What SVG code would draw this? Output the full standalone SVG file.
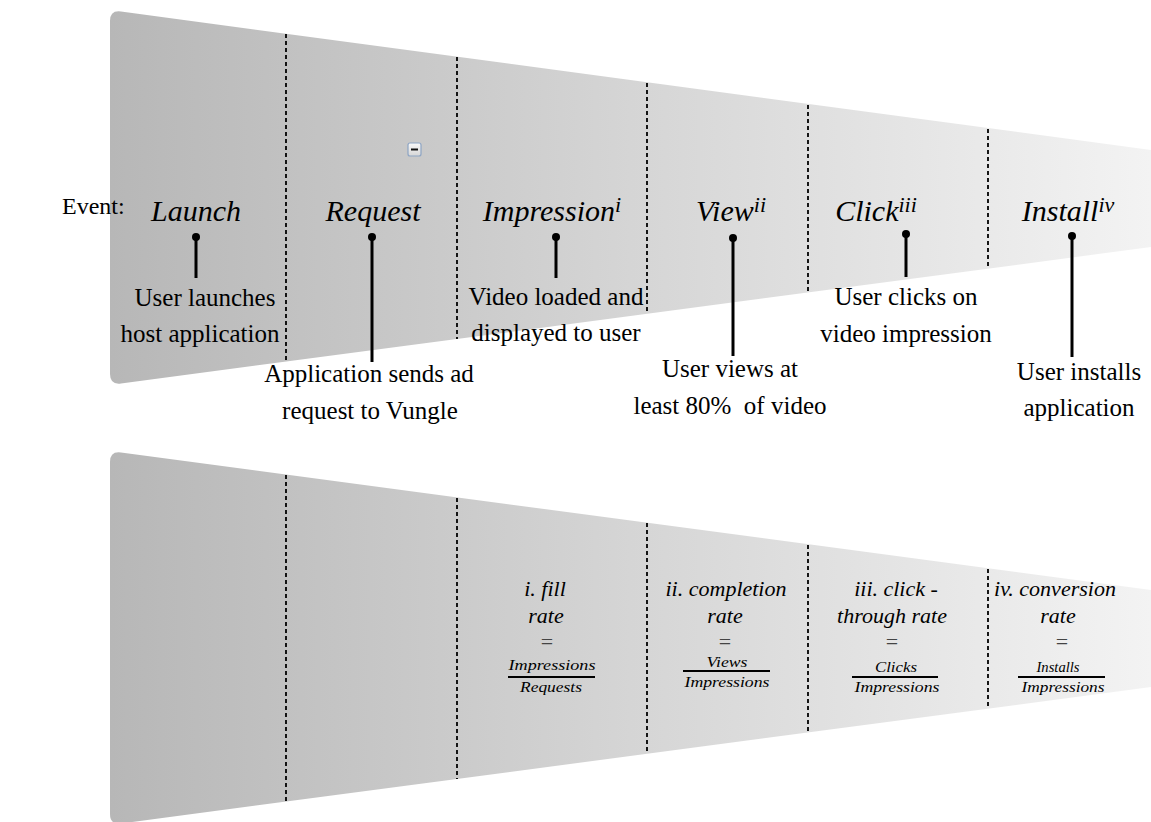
<svg xmlns="http://www.w3.org/2000/svg" width="1151" height="822" viewBox="0 0 1151 822">
<defs>
<linearGradient id="fun" x1="110" y1="0" x2="1151" y2="0" gradientUnits="userSpaceOnUse">
<stop offset="0" stop-color="#b7b7b7"/>
<stop offset="1" stop-color="#f3f3f3"/>
</linearGradient>
<linearGradient id="btn" x1="0" y1="0" x2="0" y2="1">
<stop offset="0" stop-color="#f8f8f8"/>
<stop offset="1" stop-color="#d6d6d6"/>
</linearGradient>
<style>
.t{font-family:"Liberation Serif","Times New Roman",serif;fill:#000}
.lab{font-size:25px;text-anchor:middle}
.ttl{font-size:30px;font-style:italic;text-anchor:middle}
.sup{font-size:22px}
.fm{font-size:22px;font-style:italic;text-anchor:middle}
.eq{font-size:22px;text-anchor:middle;fill:#444}
.fr{font-size:15.5px;font-style:italic;text-anchor:middle}
.dash{stroke:#000;stroke-width:1.8;stroke-dasharray:4 3;fill:none}
.stem{stroke:#000;stroke-width:3;fill:none}
.bar{stroke:#000;stroke-width:2;fill:none}
</style>
</defs>
<rect width="1151" height="822" fill="#fff"/>

<g id="funnel-top">
<path d="M110,21 Q110,10 121,11.5 L1151,150 L1151,247 L121,383.5 Q110,385 110,374 Z" fill="url(#fun)"/>
<line class="dash" x1="286" y1="34" x2="286" y2="361"/>
<line class="dash" x1="457" y1="57" x2="457" y2="339"/>
<line class="dash" x1="647" y1="83" x2="647" y2="314"/>
<line class="dash" x1="808" y1="105" x2="808" y2="292"/>
<line class="dash" x1="988" y1="129" x2="988" y2="268"/>
<g id="collapse-icon">
<rect x="408" y="143" width="13" height="13" rx="2" fill="url(#btn)" stroke="#8ea5c4" stroke-width="1.2"/>
<line x1="411" y1="149.5" x2="418" y2="149.5" stroke="#111" stroke-width="2"/>
</g>
</g>

<g id="funnel-bottom">
<path d="M110,462 Q110,451 121,452.5 L1151,590 L1151,687 L121,823.5 Q110,825 110,814 Z" fill="url(#fun)"/>
<line class="dash" x1="286" y1="475" x2="286" y2="802"/>
<line class="dash" x1="457" y1="498" x2="457" y2="779"/>
<line class="dash" x1="647" y1="523" x2="647" y2="754"/>
<line class="dash" x1="808" y1="545" x2="808" y2="732"/>
<line class="dash" x1="988" y1="569" x2="988" y2="708"/>
</g>

<text class="t" x="62" y="214" font-size="24">Event:</text>

<g id="connectors">
<line class="stem" x1="196" y1="237" x2="196" y2="278"/>
<line class="stem" x1="372" y1="237" x2="372" y2="362"/>
<line class="stem" x1="556" y1="237" x2="556" y2="278"/>
<line class="stem" x1="733" y1="238" x2="733" y2="356"/>
<line class="stem" x1="906" y1="234" x2="906" y2="277"/>
<line class="stem" x1="1072" y1="236" x2="1072" y2="357"/>
<circle cx="196" cy="237" r="4"/>
<circle cx="372" cy="237" r="4"/>
<circle cx="556" cy="237" r="4"/>
<circle cx="733" cy="238" r="4"/>
<circle cx="906" cy="234" r="4"/>
<circle cx="1072" cy="236" r="4"/>
</g>

<g id="launch">
<text class="t ttl" x="196" y="221">Launch</text>
<text class="t lab" x="205" y="306">User launches</text>
<text class="t lab" x="200" y="342">host application</text>
</g>
<g id="request">
<text class="t ttl" x="373" y="221">Request</text>
<text class="t lab" x="369" y="382">Application sends ad</text>
<text class="t lab" x="370" y="419">request to Vungle</text>
</g>
<g id="impression">
<text class="t ttl" x="552" y="221">Impression<tspan class="sup" dy="-9">i</tspan></text>
<text class="t lab" x="556" y="305">Video loaded and</text>
<text class="t lab" x="556" y="341">displayed to user</text>
</g>
<g id="view">
<text class="t ttl" x="731" y="221">View<tspan class="sup" dy="-9">ii</tspan></text>
<text class="t lab" x="730" y="377">User views at</text>
<text class="t lab" x="730" y="414" xml:space="preserve">least 80%  of video</text>
</g>
<g id="click">
<text class="t ttl" x="876" y="221">Click<tspan class="sup" dy="-9">iii</tspan></text>
<text class="t lab" x="906" y="305">User clicks on</text>
<text class="t lab" x="906" y="342">video impression</text>
</g>
<g id="install">
<text class="t ttl" x="1068" y="221">Install<tspan class="sup" dy="-9">iv</tspan></text>
<text class="t lab" x="1079" y="380">User installs</text>
<text class="t lab" x="1079" y="416">application</text>
</g>

<g id="fill-rate">
<text class="t fm" x="545" y="596">i. fill</text>
<text class="t fm" x="546" y="623">rate</text>
<text class="t eq" x="547" y="649">=</text>
<text class="t fr" x="552" y="670" textLength="87" lengthAdjust="spacingAndGlyphs">Impressions</text>
<line class="bar" x1="508" y1="677" x2="595" y2="677"/>
<text class="t fr" x="551" y="692" textLength="62" lengthAdjust="spacingAndGlyphs">Requests</text>
</g>
<g id="completion-rate">
<text class="t fm" x="726" y="596">ii. completion</text>
<text class="t fm" x="725" y="623">rate</text>
<text class="t eq" x="725" y="649">=</text>
<text class="t fr" x="727" y="667" textLength="41" lengthAdjust="spacingAndGlyphs">Views</text>
<line class="bar" x1="683" y1="671" x2="770" y2="671"/>
<text class="t fr" x="727" y="687" textLength="85" lengthAdjust="spacingAndGlyphs">Impressions</text>
</g>
<g id="ctr">
<text class="t fm" x="896" y="596">iii. click -</text>
<text class="t fm" x="892" y="623">through rate</text>
<text class="t eq" x="892" y="649">=</text>
<text class="t fr" x="896" y="672" textLength="42" lengthAdjust="spacingAndGlyphs">Clicks</text>
<line class="bar" x1="852" y1="677" x2="938" y2="677"/>
<text class="t fr" x="897" y="692" textLength="85" lengthAdjust="spacingAndGlyphs">Impressions</text>
</g>
<g id="conversion-rate">
<text class="t fm" x="1055" y="596">iv. conversion</text>
<text class="t fm" x="1058" y="623">rate</text>
<text class="t eq" x="1062" y="649">=</text>
<text class="t fr" x="1058" y="672" textLength="43" lengthAdjust="spacingAndGlyphs">Installs</text>
<line class="bar" x1="1018" y1="677" x2="1105" y2="677"/>
<text class="t fr" x="1063" y="692" textLength="83" lengthAdjust="spacingAndGlyphs">Impressions</text>
</g>
</svg>
